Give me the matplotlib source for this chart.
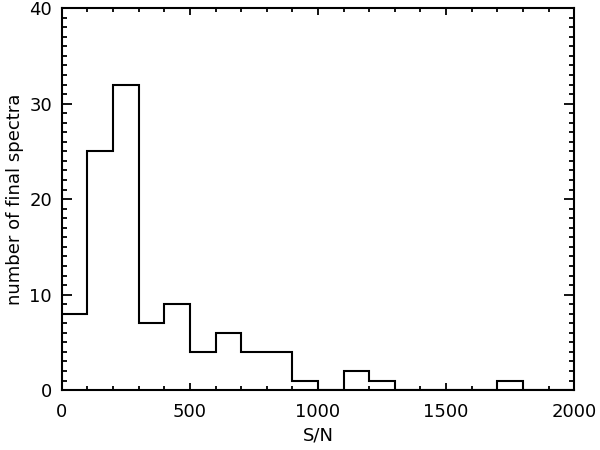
import numpy as np
import matplotlib.pyplot as plt
from matplotlib.ticker import MultipleLocator

# S/N histogram, bins of 100
bin_edges = np.arange(0, 2001, 100)
counts = [8, 25, 32, 7, 9, 4, 6, 4, 4, 1, 0, 2, 1, 0, 0, 0, 0, 1, 0, 0]

fig = plt.figure(figsize=(6, 4.5), dpi=100)
ax = fig.add_axes([0.103, 0.133, 0.854, 0.849])

ax.stairs(counts, bin_edges, color='black', lw=1.5, baseline=None)

ax.set_xlim(0, 2000)
ax.set_ylim(0, 40)
ax.set_xlabel('S/N', fontsize=13, labelpad=4)
ax.set_ylabel('number of final spectra', fontsize=13, labelpad=4)

ax.xaxis.set_major_locator(MultipleLocator(500))
ax.xaxis.set_minor_locator(MultipleLocator(100))
ax.yaxis.set_major_locator(MultipleLocator(10))
ax.yaxis.set_minor_locator(MultipleLocator(1))
ax.tick_params(which='both', direction='in', top=True, right=True, width=1.3, labelsize=13)
ax.tick_params(axis='x', which='major', length=5, pad=9)
ax.tick_params(axis='x', which='minor', length=2.7)
ax.tick_params(axis='y', which='major', length=7.5, pad=7)
ax.tick_params(axis='y', which='minor', length=3.7)
for s in ax.spines.values():
    s.set_linewidth(1.5)

fig.savefig('out.png', dpi=100)
